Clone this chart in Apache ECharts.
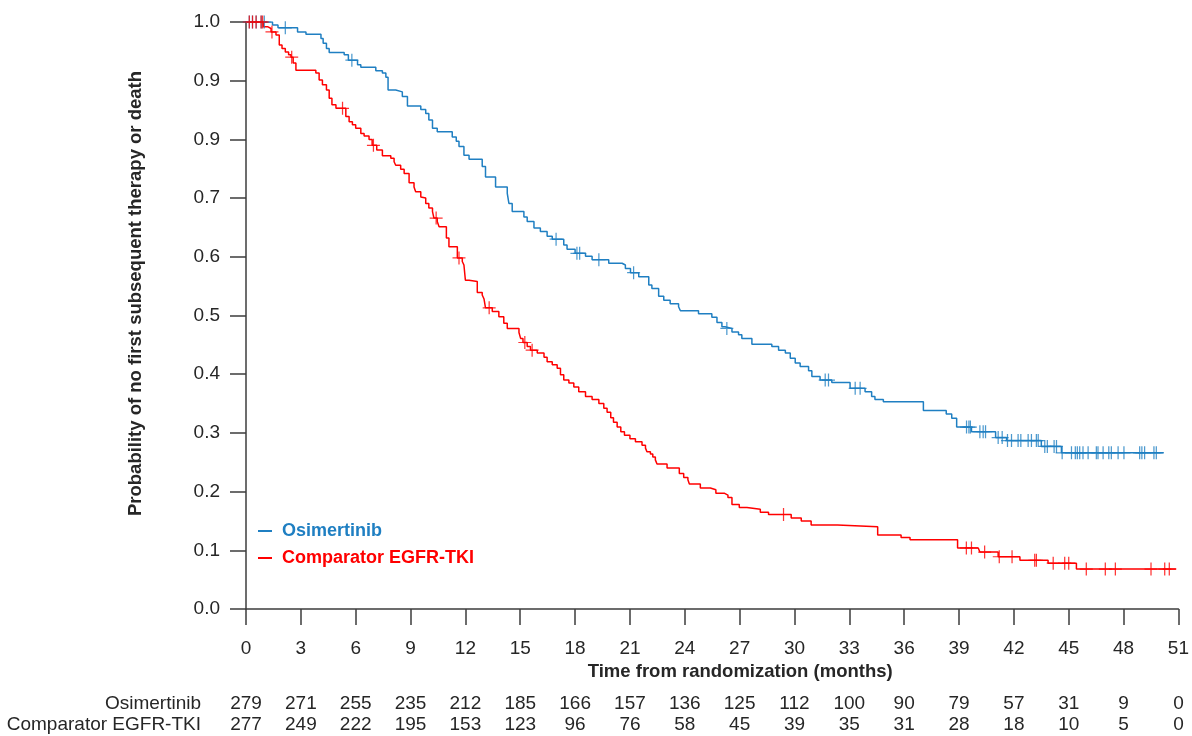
<!DOCTYPE html>
<html><head><meta charset="utf-8">
<script src="https://cdn.jsdelivr.net/npm/echarts@6/dist/echarts.min.js"></script>
<style>html,body{margin:0;padding:0;background:#fff}#c{width:1192px;height:736px}</style>
</head><body><div id="c"></div>
<script>
// ---------- data ----------
const yTickLabels = ['0.0','0.1','0.2','0.3','0.4','0.5','0.6','0.7','0.9','0.9','1.0'];
const seriesNames = ['Osimertinib', 'Comparator EGFR-TKI'];
const atRiskTimes = [0,3,6,9,12,15,18,21,24,27,30,33,36,39,42,45,48,51];
const osiAtRisk  = [279,271,255,235,212,185,166,157,136,125,112,100,90,79,57,31,9,0];
const compAtRisk = [277,249,222,195,153,123,96,76,58,45,39,35,31,28,18,10,5,0];

// Kaplan-Meier step change points (months, survival probability)
const osiT = [0,1.45,1.75,2.82,3.28,4.1,4.22,4.4,4.55,5.37,5.6,6.1,6.28,7.1,7.46,7.65,7.77,8.19,8.55,8.83,
  9.56,9.83,10.0,10.2,10.46,11.28,11.5,11.65,11.92,12.2,12.92,13.1,13.65,14.29,14.38,14.56,15.2,15.38,15.75,16.1,
  16.47,16.75,17.38,17.56,18.0,18.57,18.93,19.84,20.57,20.75,21.03,21.48,22.03,22.2,22.57,22.85,23.2,23.66,23.76,24.75,
  25.48,25.76,26.03,26.2,26.58,26.94,27.12,27.67,28.76,29.13,29.5,29.77,30.04,30.31,30.77,30.95,31.4,32.04,33.04,33.86,
  34.22,34.4,34.86,37.05,38.3,38.6,38.87,39.68,41.0,41.6,43.5,44.6,50.2];
const osiS = [1.0,0.995,0.990,0.983,0.979,0.972,0.964,0.955,0.948,0.944,0.935,0.927,0.923,0.917,0.913,0.906,0.884,0.881,0.873,0.857,
  0.851,0.844,0.833,0.819,0.813,0.804,0.797,0.788,0.773,0.766,0.754,0.736,0.719,0.708,0.691,0.677,0.668,0.660,0.649,0.643,
  0.635,0.630,0.620,0.613,0.606,0.601,0.595,0.589,0.586,0.580,0.573,0.566,0.552,0.546,0.533,0.526,0.520,0.515,0.508,0.503,
  0.497,0.488,0.481,0.478,0.472,0.467,0.461,0.451,0.447,0.441,0.436,0.427,0.419,0.413,0.406,0.396,0.390,0.386,0.376,0.370,
  0.362,0.357,0.353,0.338,0.332,0.325,0.310,0.302,0.292,0.287,0.277,0.266,0.266];
const osiCensor = [0.18,0.35,0.56,0.84,1.0,2.15,5.79,16.96,18.1,18.25,19.3,21.2,26.3,31.68,31.86,33.32,33.59,
  39.41,39.54,39.62,40.14,40.32,40.45,41.14,41.36,41.65,41.87,42.23,42.38,42.78,42.96,43.23,43.33,43.69,43.83,44.2,44.33,
  44.64,45.15,45.36,45.47,45.6,45.78,46.06,46.51,46.6,46.88,47.19,47.33,47.7,48.02,48.88,49.0,49.15,49.66,49.79];

const compT = [0,0.95,1.18,1.37,1.64,1.82,1.97,2.15,2.33,2.46,2.58,2.73,3.82,4.0,4.18,4.4,4.55,4.7,4.92,5.46,
  5.64,5.82,6.0,6.28,6.46,6.73,6.9,7.15,7.46,7.92,8.1,8.19,8.46,8.65,8.92,9.19,9.28,9.56,9.65,9.83,
  10.0,10.2,10.28,10.46,10.56,10.96,11.1,11.56,11.83,11.92,12.0,12.2,12.65,12.92,13.02,13.1,13.47,13.83,14.1,14.29,
  14.93,15.02,15.15,15.38,15.56,15.93,16.3,16.47,16.75,17.02,17.2,17.38,17.66,17.93,18.2,18.57,18.93,19.3,19.57,19.75,
  19.95,20.1,20.3,20.5,20.7,21.0,21.3,21.66,21.85,21.93,22.12,22.25,22.39,22.48,23.03,23.7,23.94,24.17,24.25,24.85,
  25.4,25.7,26.18,26.36,26.58,26.98,27.4,28.13,28.58,29.82,30.37,30.91,32.35,34.55,35.83,36.32,38.92,40.05,40.14,41.14,
  42.33,43.87,45.42,50.88];
const compS = [1.0,0.992,0.989,0.983,0.978,0.961,0.955,0.949,0.944,0.940,0.930,0.918,0.913,0.901,0.893,0.884,0.870,0.859,0.853,0.839,
  0.830,0.825,0.819,0.810,0.806,0.800,0.790,0.782,0.772,0.768,0.762,0.756,0.749,0.742,0.726,0.719,0.711,0.702,0.700,0.691,
  0.683,0.677,0.666,0.660,0.651,0.632,0.617,0.598,0.592,0.586,0.560,0.558,0.539,0.535,0.528,0.513,0.507,0.498,0.487,0.478,
  0.471,0.461,0.454,0.447,0.441,0.436,0.429,0.421,0.416,0.410,0.399,0.390,0.385,0.378,0.370,0.362,0.357,0.350,0.342,0.335,
  0.326,0.318,0.310,0.302,0.296,0.290,0.285,0.279,0.274,0.268,0.264,0.259,0.254,0.247,0.240,0.231,0.224,0.220,0.213,0.206,
  0.203,0.197,0.194,0.190,0.178,0.173,0.170,0.165,0.161,0.155,0.150,0.143,0.140,0.126,0.122,0.118,0.104,0.102,0.097,0.089,
  0.083,0.078,0.068,0.068];
const compCensor = [0.18,0.36,0.55,0.82,0.91,1.42,2.5,5.28,6.97,10.4,11.65,13.3,15.25,15.65,29.4,
  39.4,39.68,40.4,41.2,41.9,43.14,43.23,44.15,44.78,45.0,45.96,47.0,47.55,49.5,50.25,50.5];

// ---------- build ----------
const BLUE = '#1f7fc2', RED = '#ff0000', AXIS = '#3c3c3c', TXT = '#262626';
const FONT = "'Liberation Sans', Arial, sans-serif";
function stepData(T, S){ return T.map((t,i)=>[t, S[i]]); }
function censorData(C, T, S){
  return C.map(c => { let k = 0; for (let i = 0; i < T.length; i++) if (T[i] <= c) k = i; return [c, S[k]]; });
}
const plus = 'path://M-0.95,-10L0.95,-10L0.95,10L-0.95,10ZM-10,-0.95L10,-0.95L10,0.95L-10,0.95Z';
function riskFmt(arr){ return v => { const i = atRiskTimes.indexOf(Math.round(v)); return i >= 0 ? String(arr[i]) : ''; }; }

const chart = echarts.init(document.getElementById('c'), null, {renderer:'canvas'});
chart.setOption({
  animation: false,
  backgroundColor: '#fff',
  textStyle: {fontFamily: FONT},
  grid: {left: 246, top: 22, width: 934, height: 587, containLabel: false},
  legend: {
    orient: 'vertical', left: 253, top: 517, itemWidth: 14, itemHeight: 2, itemGap: 9, icon: 'rect',
    textStyle: {fontSize: 18, fontWeight: 'bold', fontFamily: FONT, padding: [0,0,0,5]},
    data: [{name: seriesNames[0], textStyle: {color: BLUE}}, {name: seriesNames[1], textStyle: {color: RED}}]
  },
  xAxis: [
    {type: 'value', min: 0, max: 51, interval: 3, position: 'bottom',
     axisLine: {show: true, lineStyle: {color: AXIS, width: 1.5}},
     axisTick: {show: true, length: 16, lineStyle: {color: AXIS, width: 1.5}},
     splitLine: {show: false},
     axisLabel: {margin: 30, fontSize: 19, color: TXT, fontFamily: FONT, showMinLabel: true, showMaxLabel: true},
     name: 'Time from randomization (months)', nameLocation: 'middle', nameGap: 48,
     nameTextStyle: {fontSize: 18.5, fontWeight: 'bold', color: TXT, fontFamily: FONT, padding: [0,0,0,56]}},
    {type: 'value', min: 0, max: 51, interval: 3, position: 'bottom', offset: 95,
     axisLine: {show: false}, axisTick: {show: false}, splitLine: {show: false},
     axisLabel: {margin: 0, verticalAlign: 'middle', fontSize: 19, color: TXT, fontFamily: FONT,
                 showMinLabel: true, showMaxLabel: true, formatter: riskFmt(osiAtRisk)},
     name: seriesNames[0], nameLocation: 'start', nameGap: 45,
     nameTextStyle: {fontSize: 19, color: TXT, fontFamily: FONT, align: 'right', verticalAlign: 'middle'}},
    {type: 'value', min: 0, max: 51, interval: 3, position: 'bottom', offset: 116,
     axisLine: {show: false}, axisTick: {show: false}, splitLine: {show: false},
     axisLabel: {margin: 0, verticalAlign: 'middle', fontSize: 19, color: TXT, fontFamily: FONT,
                 showMinLabel: true, showMaxLabel: true, formatter: riskFmt(compAtRisk)},
     name: seriesNames[1], nameLocation: 'start', nameGap: 45,
     nameTextStyle: {fontSize: 19, color: TXT, fontFamily: FONT, align: 'right', verticalAlign: 'middle'}}
  ],
  yAxis: {
    type: 'value', min: 0, max: 1, interval: 0.1,
    axisLine: {show: true, lineStyle: {color: AXIS, width: 1.5}},
    axisTick: {show: true, length: 16, lineStyle: {color: AXIS, width: 1.5}},
    splitLine: {show: false},
    axisLabel: {margin: 26, fontSize: 19, color: TXT, fontFamily: FONT,
                formatter: v => yTickLabels[Math.round(v * 10)]},
    name: 'Probability of no first subsequent therapy or death', nameLocation: 'middle', nameGap: 101,
    nameTextStyle: {fontSize: 18.5, fontWeight: 'bold', color: TXT, fontFamily: FONT, padding: [0,0,0,44]}
  },
  series: [
    {name: seriesNames[0], type: 'line', step: 'end', data: stepData(osiT, osiS), showSymbol: false,
     symbol: 'none', color: BLUE, lineStyle: {color: BLUE, width: 1.5}, z: 2},
    {name: seriesNames[1], type: 'line', step: 'end', data: stepData(compT, compS), showSymbol: false,
     symbol: 'none', color: RED, lineStyle: {color: RED, width: 1.5}, z: 3},
    {name: 'Osimertinib censored', type: 'scatter', data: censorData(osiCensor, osiT, osiS),
     symbol: plus, symbolSize: 13, itemStyle: {color: BLUE}, z: 4},
    {name: 'Comparator censored', type: 'scatter', data: censorData(compCensor, compT, compS),
     symbol: plus, symbolSize: 13, itemStyle: {color: RED}, z: 5}
  ]
});
</script>
</body></html>
